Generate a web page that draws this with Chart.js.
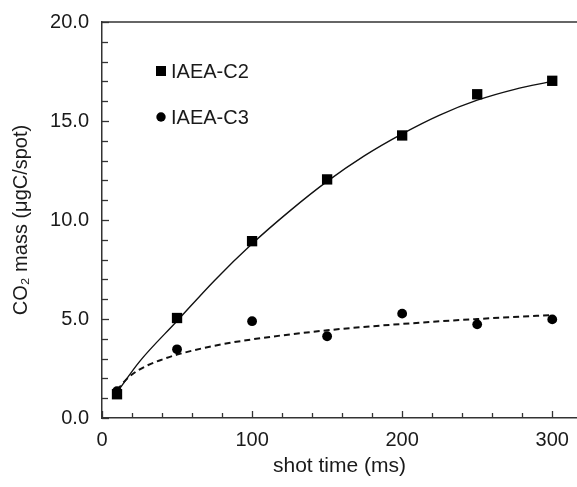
<!DOCTYPE html>
<html>
<head>
<meta charset="utf-8">
<script src="https://cdn.jsdelivr.net/npm/chart.js@4/dist/chart.umd.min.js"></script>
<style>
  html, body { margin: 0; padding: 0; background: #fff; }
  #wrap { width: 577px; height: 487px; position: relative; }
</style>
</head>
<body>
<div id="wrap"><canvas id="c" width="577" height="487"></canvas></div>
<script>
// ---- data ----
const seriesNames = ['IAEA-C2', 'IAEA-C3'];
const shotTimeC2 = [10, 50, 100, 150, 200, 250, 300];
const massC2 = [1.2, 5.05, 8.93, 12.05, 14.27, 16.35, 17.03];
const shotTimeC3 = [10, 50, 100, 150, 200, 250, 300];
const massC3 = [1.35, 3.47, 4.89, 4.13, 5.27, 4.73, 4.98];
// fitted curves
const fitTimeC2 = [10, 25, 50, 75, 100, 125, 150, 175, 200, 225, 250, 275, 300];
const fitMassC2 = [1.3, 2.85, 4.9, 6.95, 8.8, 10.45, 11.95, 13.25, 14.35, 15.3, 16.05, 16.6, 17.0];
const fitTimeC3 = [10, 15, 20, 30, 40, 50, 75, 100, 150, 200, 250, 300];
const fitMassC3 = [1.4, 1.85, 2.2, 2.65, 2.95, 3.2, 3.65, 3.97, 4.43, 4.75, 5.0, 5.2];
const xMajorTicks = [0, 100, 200, 300];
const yMajorTicks = [0, 5, 10, 15, 20];

const pts = (xs, ys) => xs.map((x, i) => ({ x: x, y: ys[i] }));
const FONT = "'Liberation Sans', Arial, Helvetica, sans-serif";
const INK = '#1a1a1a';

const innerTicks = {
  id: 'innerTicks',
  afterDraw(chart) {
    const ctx = chart.ctx, a = chart.chartArea;
    const xs = chart.scales.x, ys = chart.scales.y;
    ctx.save();
    ctx.strokeStyle = '#333';
    ctx.lineWidth = 1.3;
    xs.ticks.forEach(t => {
      const px = Math.round(xs.getPixelForValue(t.value)) + 0.5;
      const len = xMajorTicks.includes(t.value) ? 7 : 5;
      ctx.beginPath(); ctx.moveTo(px, a.bottom); ctx.lineTo(px, a.bottom - len); ctx.stroke();
    });
    ys.ticks.forEach(t => {
      const py = Math.round(ys.getPixelForValue(t.value)) + 0.5;
      const len = yMajorTicks.includes(t.value) ? 7 : 6;
      ctx.beginPath(); ctx.moveTo(a.left, py); ctx.lineTo(a.left + len, py); ctx.stroke();
    });
    // top frame line
    ctx.lineWidth = 1.5;
    ctx.beginPath(); ctx.moveTo(a.left, a.top); ctx.lineTo(a.right, a.top); ctx.stroke();
    ctx.restore();
  }
};

const innerLegend = {
  id: 'innerLegend',
  afterDraw(chart) {
    const ctx = chart.ctx, a = chart.chartArea;
    ctx.save();
    ctx.fillStyle = '#000';
    const mx = a.left + 59;
    const y1 = a.top + 49, y2 = a.top + 95;
    ctx.fillRect(mx - 5, y1 - 5, 10, 10);
    ctx.beginPath(); ctx.arc(mx, y2, 4.7, 0, Math.PI * 2); ctx.fill();
    ctx.fillStyle = INK;
    ctx.font = '20px ' + FONT;
    ctx.textBaseline = 'middle';
    ctx.textAlign = 'left';
    ctx.fillText(seriesNames[0], mx + 10, y1 + 1);
    ctx.fillText(seriesNames[1], mx + 10, y2 + 1);
    ctx.restore();
  }
};

new Chart(document.getElementById('c'), {
  type: 'scatter',
  data: {
    datasets: [
      { label: seriesNames[0], data: pts(shotTimeC2, massC2), pointStyle: 'rect', pointRadius: 7.3,
        backgroundColor: '#000', borderColor: '#000', borderWidth: 0, showLine: false, order: 1 },
      { label: seriesNames[1], data: pts(shotTimeC3, massC3), pointStyle: 'circle', pointRadius: 4.9,
        backgroundColor: '#000', borderColor: '#000', borderWidth: 0, showLine: false, order: 2 },
      { label: 'fit C2', data: pts(fitTimeC2, fitMassC2), showLine: true, pointRadius: 0,
        borderColor: '#111', borderWidth: 1.4, tension: 0.4, cubicInterpolationMode: 'monotone', order: 3 },
      { label: 'fit C3', data: pts(fitTimeC3, fitMassC3), showLine: true, pointRadius: 0,
        borderColor: '#111', borderWidth: 2, borderDash: [6, 4], tension: 0.4, cubicInterpolationMode: 'monotone', order: 4 }
    ]
  },
  options: {
    responsive: false,
    animation: false,
    events: [],
    layout: { autoPadding: false, padding: { top: 22, right: 0, left: 0, bottom: 0 } },
    plugins: { legend: { display: false }, tooltip: { enabled: false } },
    scales: {
      x: {
        type: 'linear', min: 0, max: 316.5,
        grid: { display: true, drawOnChartArea: false, drawTicks: false },
        border: { display: true, color: '#333', width: 1.5 },
        ticks: {
          stepSize: 20, includeBounds: false, autoSkip: false, maxRotation: 0,
          padding: 10, color: INK, font: { family: FONT, size: 20 },
          callback: v => xMajorTicks.includes(v) ? String(v) : ''
        },
        title: { display: true, text: 'shot time (ms)', color: INK, font: { family: FONT, size: 21 },
                 padding: { top: 8, bottom: 8 } },
        afterFit: s => { s.height = 69; s.paddingRight = 0; s.paddingLeft = 0; }
      },
      y: {
        type: 'linear', min: 0, max: 20,
        grid: { display: true, drawOnChartArea: false, drawTicks: false },
        border: { display: true, color: '#333', width: 1.5 },
        ticks: {
          stepSize: 1, autoSkip: false, padding: 13, color: INK, font: { family: FONT, size: 20 },
          callback: v => yMajorTicks.includes(v) ? v.toFixed(1) : ''
        },
        title: { display: true, text: 'CO₂ mass (μgC/spot)', color: INK, font: { family: FONT, size: 20 },
                 padding: { top: 9, bottom: 0 } },
        afterFit: s => { s.width = 102; s.paddingTop = 0; s.paddingBottom = 0; }
      }
    }
  },
  plugins: [innerTicks, innerLegend]
});
</script>
</body>
</html>
